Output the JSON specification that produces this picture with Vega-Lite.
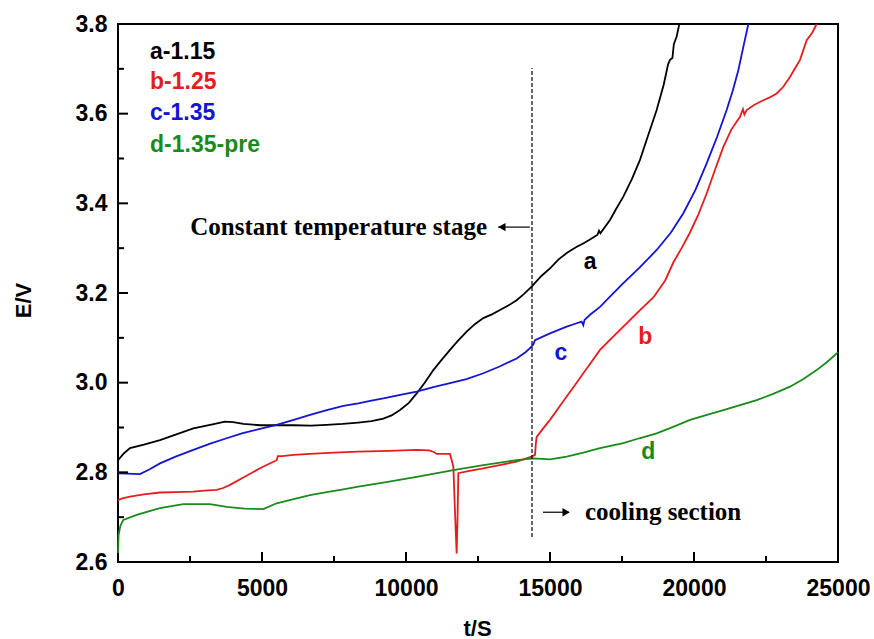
{
  "$schema": "https://vega.github.io/schema/vega-lite/v6.json",
  "autosize": {"type": "none"},
  "width": 720,
  "height": 538,
  "padding": {"left": 118, "top": 24, "right": 36, "bottom": 77},
  "background": "white",
  "config": {
    "view": {"stroke": "black", "strokeWidth": 2},
    "axis": {"grid": false, "domain": false, "ticks": false, "labelColor": "black", "titleColor": "black", "labelFont": "Liberation Sans", "titleFont": "Liberation Sans", "labelFontWeight": "bold", "titleFontWeight": "bold", "labelFontSize": 23, "titleFontSize": 22}
  },
  "datasets": {
    "curves": [
      {"t": 0, "E": 2.827, "series": "a"}, {"t": 200, "E": 2.842, "series": "a"}, {"t": 417, "E": 2.854, "series": "a"}, {"t": 900, "E": 2.862, "series": "a"}, {"t": 1458, "E": 2.872, "series": "a"}, {"t": 2000, "E": 2.884, "series": "a"}, {"t": 2616, "E": 2.898, "series": "a"}, {"t": 3200, "E": 2.906, "series": "a"}, {"t": 3715, "E": 2.913, "series": "a"}, {"t": 4000, "E": 2.912, "series": "a"}, {"t": 4352, "E": 2.908, "series": "a"}, {"t": 4931, "E": 2.905, "series": "a"}, {"t": 5500, "E": 2.905, "series": "a"}, {"t": 6088, "E": 2.905, "series": "a"}, {"t": 6700, "E": 2.904, "series": "a"}, {"t": 7245, "E": 2.906, "series": "a"}, {"t": 7800, "E": 2.908, "series": "a"}, {"t": 8345, "E": 2.911, "series": "a"}, {"t": 8800, "E": 2.914, "series": "a"}, {"t": 9213, "E": 2.92, "series": "a"}, {"t": 9500, "E": 2.927, "series": "a"}, {"t": 9792, "E": 2.939, "series": "a"}, {"t": 10100, "E": 2.955, "series": "a"}, {"t": 10370, "E": 2.976, "series": "a"}, {"t": 10650, "E": 3.0, "series": "a"}, {"t": 10949, "E": 3.028, "series": "a"}, {"t": 11250, "E": 3.052, "series": "a"}, {"t": 11528, "E": 3.073, "series": "a"}, {"t": 11800, "E": 3.093, "series": "a"}, {"t": 12106, "E": 3.114, "series": "a"}, {"t": 12400, "E": 3.131, "series": "a"}, {"t": 12685, "E": 3.144, "series": "a"}, {"t": 13000, "E": 3.153, "series": "a"}, {"t": 13264, "E": 3.162, "series": "a"}, {"t": 13550, "E": 3.172, "series": "a"}, {"t": 13842, "E": 3.184, "series": "a"}, {"t": 14100, "E": 3.198, "series": "a"}, {"t": 14363, "E": 3.214, "series": "a"}, {"t": 14700, "E": 3.238, "series": "a"}, {"t": 15000, "E": 3.255, "series": "a"}, {"t": 15300, "E": 3.275, "series": "a"}, {"t": 15579, "E": 3.289, "series": "a"}, {"t": 15900, "E": 3.302, "series": "a"}, {"t": 16200, "E": 3.312, "series": "a"}, {"t": 16500, "E": 3.324, "series": "a"}, {"t": 16650, "E": 3.33, "series": "a"}, {"t": 16700, "E": 3.339, "series": "a"}, {"t": 16750, "E": 3.333, "series": "a"}, {"t": 17083, "E": 3.363, "series": "a"}, {"t": 17300, "E": 3.388, "series": "a"}, {"t": 17546, "E": 3.415, "series": "a"}, {"t": 17850, "E": 3.455, "series": "a"}, {"t": 18125, "E": 3.497, "series": "a"}, {"t": 18400, "E": 3.55, "series": "a"}, {"t": 18704, "E": 3.608, "series": "a"}, {"t": 18950, "E": 3.665, "series": "a"}, {"t": 19100, "E": 3.71, "series": "a"}, {"t": 19167, "E": 3.72, "series": "a"}, {"t": 19250, "E": 3.724, "series": "a"}, {"t": 19300, "E": 3.755, "series": "a"}, {"t": 19398, "E": 3.772, "series": "a"}, {"t": 19491, "E": 3.8, "series": "a"},
      {"t": 0, "E": 2.738, "series": "b"}, {"t": 150, "E": 2.742, "series": "b"}, {"t": 417, "E": 2.746, "series": "b"}, {"t": 900, "E": 2.751, "series": "b"}, {"t": 1458, "E": 2.755, "series": "b"}, {"t": 2000, "E": 2.756, "series": "b"}, {"t": 2616, "E": 2.757, "series": "b"}, {"t": 3000, "E": 2.759, "series": "b"}, {"t": 3426, "E": 2.761, "series": "b"}, {"t": 3650, "E": 2.765, "series": "b"}, {"t": 3889, "E": 2.772, "series": "b"}, {"t": 4400, "E": 2.79, "series": "b"}, {"t": 4931, "E": 2.809, "series": "b"}, {"t": 5250, "E": 2.819, "series": "b"}, {"t": 5509, "E": 2.827, "series": "b"}, {"t": 5550, "E": 2.836, "series": "b"}, {"t": 5700, "E": 2.836, "series": "b"}, {"t": 6100, "E": 2.839, "series": "b"}, {"t": 6667, "E": 2.841, "series": "b"}, {"t": 7500, "E": 2.844, "series": "b"}, {"t": 8345, "E": 2.846, "series": "b"}, {"t": 9400, "E": 2.848, "series": "b"}, {"t": 10370, "E": 2.85, "series": "b"}, {"t": 10800, "E": 2.849, "series": "b"}, {"t": 10949, "E": 2.846, "series": "b"}, {"t": 11065, "E": 2.841, "series": "b"}, {"t": 11528, "E": 2.841, "series": "b"}, {"t": 11644, "E": 2.813, "series": "b"}, {"t": 11720, "E": 2.68, "series": "b"}, {"t": 11759, "E": 2.619, "series": "b"}, {"t": 11790, "E": 2.7, "series": "b"}, {"t": 11817, "E": 2.798, "series": "b"}, {"t": 12200, "E": 2.803, "series": "b"}, {"t": 12685, "E": 2.809, "series": "b"}, {"t": 13250, "E": 2.816, "series": "b"}, {"t": 13842, "E": 2.824, "series": "b"}, {"t": 14363, "E": 2.835, "series": "b"}, {"t": 14479, "E": 2.839, "series": "b"}, {"t": 14510, "E": 2.865, "series": "b"}, {"t": 14537, "E": 2.879, "series": "b"}, {"t": 14750, "E": 2.897, "series": "b"}, {"t": 15000, "E": 2.917, "series": "b"}, {"t": 15300, "E": 2.944, "series": "b"}, {"t": 15579, "E": 2.969, "series": "b"}, {"t": 15870, "E": 2.995, "series": "b"}, {"t": 16157, "E": 3.021, "series": "b"}, {"t": 16450, "E": 3.047, "series": "b"}, {"t": 16736, "E": 3.073, "series": "b"}, {"t": 17150, "E": 3.1, "series": "b"}, {"t": 17546, "E": 3.125, "series": "b"}, {"t": 18125, "E": 3.162, "series": "b"}, {"t": 18588, "E": 3.19, "series": "b"}, {"t": 19000, "E": 3.228, "series": "b"}, {"t": 19282, "E": 3.268, "series": "b"}, {"t": 19570, "E": 3.3, "series": "b"}, {"t": 19861, "E": 3.335, "series": "b"}, {"t": 20150, "E": 3.375, "series": "b"}, {"t": 20440, "E": 3.422, "series": "b"}, {"t": 20730, "E": 3.475, "series": "b"}, {"t": 21019, "E": 3.526, "series": "b"}, {"t": 21300, "E": 3.565, "series": "b"}, {"t": 21597, "E": 3.593, "series": "b"}, {"t": 21700, "E": 3.61, "series": "b"}, {"t": 21750, "E": 3.598, "series": "b"}, {"t": 21829, "E": 3.608, "series": "b"}, {"t": 22100, "E": 3.62, "series": "b"}, {"t": 22407, "E": 3.63, "series": "b"}, {"t": 22650, "E": 3.637, "series": "b"}, {"t": 22870, "E": 3.645, "series": "b"}, {"t": 23100, "E": 3.66, "series": "b"}, {"t": 23333, "E": 3.682, "series": "b"}, {"t": 23500, "E": 3.7, "series": "b"}, {"t": 23681, "E": 3.72, "series": "b"}, {"t": 23912, "E": 3.764, "series": "b"}, {"t": 24100, "E": 3.78, "series": "b"}, {"t": 24259, "E": 3.8, "series": "b"},
      {"t": 0, "E": 2.798, "series": "c"}, {"t": 300, "E": 2.797, "series": "c"}, {"t": 764, "E": 2.796, "series": "c"}, {"t": 1100, "E": 2.807, "series": "c"}, {"t": 1458, "E": 2.82, "series": "c"}, {"t": 2000, "E": 2.835, "series": "c"}, {"t": 2616, "E": 2.85, "series": "c"}, {"t": 3200, "E": 2.864, "series": "c"}, {"t": 3773, "E": 2.876, "series": "c"}, {"t": 4300, "E": 2.887, "series": "c"}, {"t": 4931, "E": 2.897, "series": "c"}, {"t": 5509, "E": 2.906, "series": "c"}, {"t": 6100, "E": 2.917, "series": "c"}, {"t": 6667, "E": 2.928, "series": "c"}, {"t": 7250, "E": 2.939, "series": "c"}, {"t": 7824, "E": 2.948, "series": "c"}, {"t": 8345, "E": 2.954, "series": "c"}, {"t": 8800, "E": 2.96, "series": "c"}, {"t": 9213, "E": 2.965, "series": "c"}, {"t": 9800, "E": 2.973, "series": "c"}, {"t": 10370, "E": 2.98, "series": "c"}, {"t": 10950, "E": 2.99, "series": "c"}, {"t": 11528, "E": 2.999, "series": "c"}, {"t": 12100, "E": 3.008, "series": "c"}, {"t": 12685, "E": 3.021, "series": "c"}, {"t": 13250, "E": 3.036, "series": "c"}, {"t": 13842, "E": 3.054, "series": "c"}, {"t": 14150, "E": 3.068, "series": "c"}, {"t": 14306, "E": 3.077, "series": "c"}, {"t": 14420, "E": 3.085, "series": "c"}, {"t": 14479, "E": 3.095, "series": "c"}, {"t": 15000, "E": 3.11, "series": "c"}, {"t": 15579, "E": 3.125, "series": "c"}, {"t": 15900, "E": 3.132, "series": "c"}, {"t": 16100, "E": 3.136, "series": "c"}, {"t": 16157, "E": 3.128, "series": "c"}, {"t": 16200, "E": 3.14, "series": "c"}, {"t": 16400, "E": 3.152, "series": "c"}, {"t": 16736, "E": 3.169, "series": "c"}, {"t": 17100, "E": 3.193, "series": "c"}, {"t": 17546, "E": 3.222, "series": "c"}, {"t": 18100, "E": 3.256, "series": "c"}, {"t": 18704, "E": 3.296, "series": "c"}, {"t": 19200, "E": 3.335, "series": "c"}, {"t": 19630, "E": 3.378, "series": "c"}, {"t": 20050, "E": 3.43, "series": "c"}, {"t": 20440, "E": 3.489, "series": "c"}, {"t": 20800, "E": 3.548, "series": "c"}, {"t": 21134, "E": 3.608, "series": "c"}, {"t": 21350, "E": 3.652, "series": "c"}, {"t": 21539, "E": 3.697, "series": "c"}, {"t": 21700, "E": 3.745, "series": "c"}, {"t": 21886, "E": 3.8, "series": "c"},
      {"t": 0, "E": 2.62, "series": "d"}, {"t": 20, "E": 2.66, "series": "d"}, {"t": 80, "E": 2.68, "series": "d"}, {"t": 185, "E": 2.694, "series": "d"}, {"t": 648, "E": 2.705, "series": "d"}, {"t": 1000, "E": 2.712, "series": "d"}, {"t": 1458, "E": 2.72, "series": "d"}, {"t": 2269, "E": 2.729, "series": "d"}, {"t": 3194, "E": 2.729, "series": "d"}, {"t": 3773, "E": 2.723, "series": "d"}, {"t": 4400, "E": 2.719, "series": "d"}, {"t": 5046, "E": 2.718, "series": "d"}, {"t": 5509, "E": 2.731, "series": "d"}, {"t": 6100, "E": 2.74, "series": "d"}, {"t": 6667, "E": 2.749, "series": "d"}, {"t": 7250, "E": 2.756, "series": "d"}, {"t": 7824, "E": 2.762, "series": "d"}, {"t": 8345, "E": 2.768, "series": "d"}, {"t": 9213, "E": 2.777, "series": "d"}, {"t": 10370, "E": 2.79, "series": "d"}, {"t": 11644, "E": 2.805, "series": "d"}, {"t": 12685, "E": 2.816, "series": "d"}, {"t": 13842, "E": 2.827, "series": "d"}, {"t": 14421, "E": 2.831, "series": "d"}, {"t": 15000, "E": 2.829, "series": "d"}, {"t": 15579, "E": 2.835, "series": "d"}, {"t": 16157, "E": 2.844, "series": "d"}, {"t": 16736, "E": 2.854, "series": "d"}, {"t": 17546, "E": 2.865, "series": "d"}, {"t": 18100, "E": 2.876, "series": "d"}, {"t": 18704, "E": 2.887, "series": "d"}, {"t": 19300, "E": 2.902, "series": "d"}, {"t": 19861, "E": 2.917, "series": "d"}, {"t": 20450, "E": 2.928, "series": "d"}, {"t": 21019, "E": 2.939, "series": "d"}, {"t": 21600, "E": 2.95, "series": "d"}, {"t": 22176, "E": 2.961, "series": "d"}, {"t": 22750, "E": 2.975, "series": "d"}, {"t": 23333, "E": 2.991, "series": "d"}, {"t": 23800, "E": 3.008, "series": "d"}, {"t": 24259, "E": 3.028, "series": "d"}, {"t": 24600, "E": 3.045, "series": "d"}, {"t": 24954, "E": 3.065, "series": "d"}, {"t": 25000, "E": 3.067, "series": "d"}
    ],
    "legendText": [
      {"t": 1111, "E": 3.7375, "series": "a", "label": "a-1.15"},
      {"t": 1111, "E": 3.671, "series": "b", "label": "b-1.25"},
      {"t": 1111, "E": 3.601, "series": "c", "label": "c-1.35"},
      {"t": 1111, "E": 3.53, "series": "d", "label": "d-1.35-pre"}
    ],
    "curveLetters": [
      {"t": 16390, "E": 3.27, "series": "a", "label": "a"},
      {"t": 18310, "E": 3.101, "series": "b", "label": "b"},
      {"t": 15382, "E": 3.067, "series": "c", "label": "c"},
      {"t": 18414, "E": 2.846, "series": "d", "label": "d"}
    ],
    "xMajor": [{"t": 5000}, {"t": 10000}, {"t": 15000}, {"t": 20000}],
    "xMinor": [{"t": 2500}, {"t": 7500}, {"t": 12500}, {"t": 17500}, {"t": 22500}],
    "yMajor": [{"E": 2.8}, {"E": 3.0}, {"E": 3.2}, {"E": 3.4}, {"E": 3.6}],
    "yMinor": [{"E": 2.7}, {"E": 2.9}, {"E": 3.1}, {"E": 3.3}, {"E": 3.5}, {"E": 3.7}]
  },
  "layer": [
    {
      "data": {"name": "curves"},
      "mark": {"type": "line", "strokeWidth": 1.8, "interpolate": "linear"},
      "encoding": {
        "x": {"field": "t", "type": "quantitative", "scale": {"domain": [0, 25000], "nice": false},
          "axis": {"orient": "bottom", "values": [0, 5000, 10000, 15000, 20000, 25000], "format": "d", "title": "t/S", "labelPadding": 15, "labelBaseline": "top", "titleX": 359, "titleY": 66, "titleBaseline": "middle", "titleAlign": "center", "labelFlush": false}},
        "y": {"field": "E", "type": "quantitative", "scale": {"domain": [2.6, 3.8], "nice": false, "zero": false},
          "axis": {"orient": "left", "values": [2.6, 2.8, 3.0, 3.2, 3.4, 3.6, 3.8], "format": ".1f", "title": "E/V", "labelPadding": 11, "titleX": -95, "titleY": 276, "titleAngle": 270, "titleAlign": "center", "titleBaseline": "middle", "labelFlush": false}},
        "color": {"field": "series", "type": "nominal", "scale": {"domain": ["a", "b", "c", "d"], "range": ["#000000", "#e41e1e", "#1414d2", "#1a8a1a"]}, "legend": null},
        "detail": {"field": "series"}
      }
    },
    {
      "data": {"name": "xMajor"},
      "mark": {"type": "tick", "orient": "vertical", "size": 10, "thickness": 2, "yOffset": -5, "color": "black", "opacity": 1},
      "encoding": {
        "x": {"field": "t", "type": "quantitative", "axis": null},
        "y": {"datum": 2.6, "type": "quantitative", "axis": null}
      }
    },
    {
      "data": {"name": "xMinor"},
      "mark": {"type": "tick", "orient": "vertical", "size": 6, "thickness": 2, "yOffset": -3, "color": "black", "opacity": 1},
      "encoding": {
        "x": {"field": "t", "type": "quantitative", "axis": null},
        "y": {"datum": 2.6, "type": "quantitative", "axis": null}
      }
    },
    {
      "data": {"name": "yMajor"},
      "mark": {"type": "tick", "orient": "horizontal", "size": 10, "thickness": 2, "xOffset": 5, "color": "black", "opacity": 1},
      "encoding": {
        "x": {"datum": 0, "type": "quantitative", "axis": null},
        "y": {"field": "E", "type": "quantitative", "axis": null}
      }
    },
    {
      "data": {"name": "yMinor"},
      "mark": {"type": "tick", "orient": "horizontal", "size": 6, "thickness": 2, "xOffset": 3, "color": "black", "opacity": 1},
      "encoding": {
        "x": {"datum": 0, "type": "quantitative", "axis": null},
        "y": {"field": "E", "type": "quantitative", "axis": null}
      }
    },
    {
      "data": {"values": [{"t": 14375, "E1": 2.656, "E2": 3.702}]},
      "mark": {"type": "rule", "color": "black", "strokeWidth": 1.2, "strokeDash": [4, 2]},
      "encoding": {
        "x": {"field": "t", "type": "quantitative", "axis": null},
        "y": {"field": "E1", "type": "quantitative", "axis": null},
        "y2": {"field": "E2"}
      }
    },
    {
      "data": {"values": [{"t1": 13200, "t2": 14300, "E": 3.347}, {"t1": 14757, "t2": 15650, "E": 2.711}]},
      "mark": {"type": "rule", "color": "black", "strokeWidth": 1.2},
      "encoding": {
        "x": {"field": "t1", "type": "quantitative", "axis": null},
        "x2": {"field": "t2"},
        "y": {"field": "E", "type": "quantitative", "axis": null}
      }
    },
    {
      "data": {"values": [{"t": 13330, "E": 3.347, "dir": "left"}, {"t": 15560, "E": 2.711, "dir": "right"}]},
      "mark": {"type": "point", "filled": true, "color": "black", "opacity": 1, "size": 70},
      "encoding": {
        "x": {"field": "t", "type": "quantitative", "axis": null},
        "y": {"field": "E", "type": "quantitative", "axis": null},
        "shape": {"field": "dir", "type": "nominal", "scale": {"domain": ["left", "right"], "range": ["triangle-left", "triangle-right"]}, "legend": null}
      }
    },
    {
      "data": {"name": "legendText"},
      "mark": {"type": "text", "align": "left", "baseline": "middle", "font": "Liberation Sans", "fontWeight": "bold", "fontSize": 23},
      "encoding": {
        "x": {"field": "t", "type": "quantitative", "axis": null},
        "y": {"field": "E", "type": "quantitative", "axis": null},
        "text": {"field": "label"},
        "color": {"field": "series", "type": "nominal", "legend": null}
      }
    },
    {
      "data": {"name": "curveLetters"},
      "mark": {"type": "text", "align": "center", "baseline": "middle", "font": "Liberation Sans", "fontWeight": "bold", "fontSize": 23},
      "encoding": {
        "x": {"field": "t", "type": "quantitative", "axis": null},
        "y": {"field": "E", "type": "quantitative", "axis": null},
        "text": {"field": "label"},
        "color": {"field": "series", "type": "nominal", "legend": null}
      }
    },
    {
      "data": {"values": [{"t": 12813, "E": 3.347, "label": "Constant temperature stage"}]},
      "mark": {"type": "text", "align": "right", "baseline": "middle", "font": "Liberation Serif", "fontWeight": "bold", "fontSize": 25, "color": "black"},
      "encoding": {
        "x": {"field": "t", "type": "quantitative", "axis": null},
        "y": {"field": "E", "type": "quantitative", "axis": null},
        "text": {"field": "label"}
      }
    },
    {
      "data": {"values": [{"t": 16215, "E": 2.711, "label": "cooling section"}]},
      "mark": {"type": "text", "align": "left", "baseline": "middle", "font": "Liberation Serif", "fontWeight": "bold", "fontSize": 25, "color": "black"},
      "encoding": {
        "x": {"field": "t", "type": "quantitative", "axis": null},
        "y": {"field": "E", "type": "quantitative", "axis": null},
        "text": {"field": "label"}
      }
    }
  ],
  "resolve": {"axis": {"x": "independent", "y": "independent"}}
}
